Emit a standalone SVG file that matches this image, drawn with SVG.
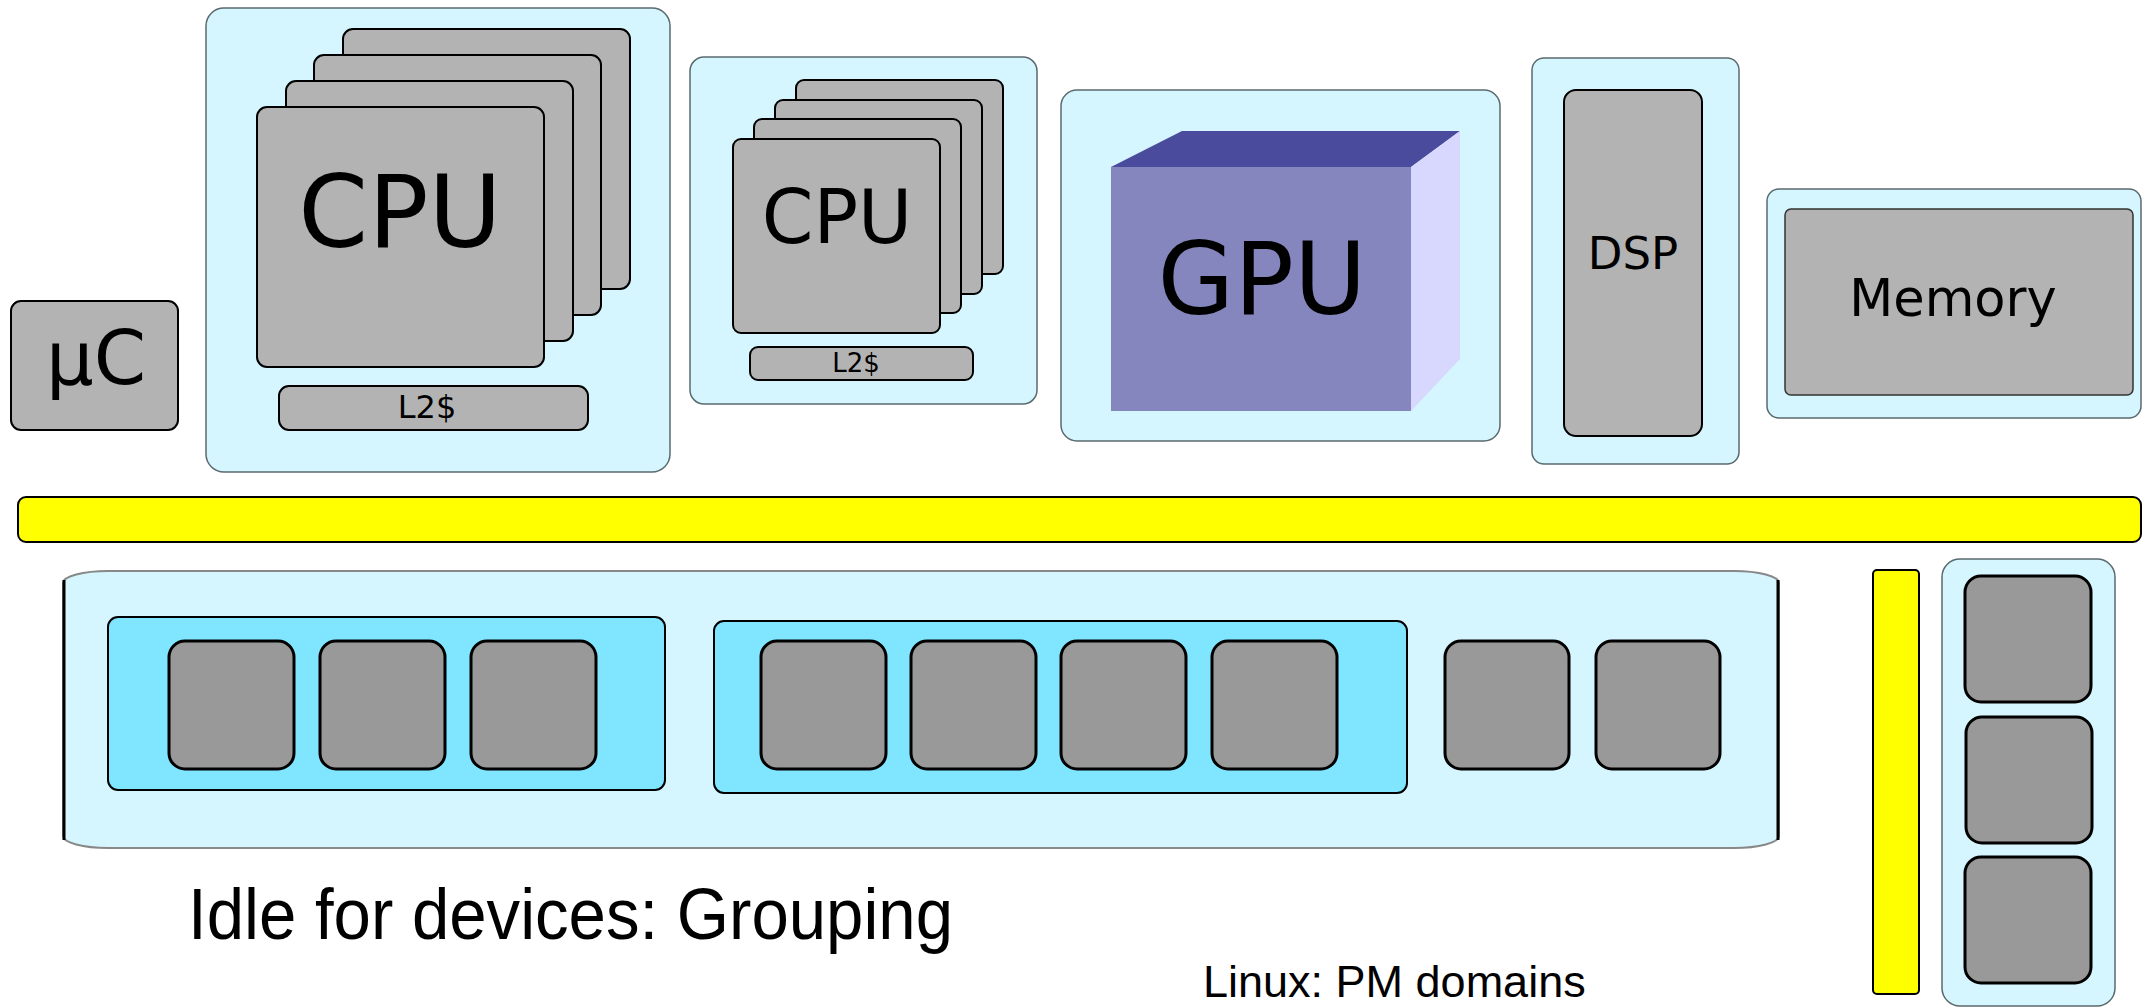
<svg xmlns="http://www.w3.org/2000/svg" width="2143" height="1008" viewBox="0 0 2143 1008">
<style>
.cont{fill:#D5F5FF;stroke:#5a6a6e;stroke-width:1.5}
.chip{fill:#B3B3B3;stroke:#000;stroke-width:2}
.dev{fill:#999999;stroke:#000;stroke-width:3}
.grp{fill:#80E5FF;stroke:#000;stroke-width:2}
.bus{fill:#FFFF00;stroke:#000;stroke-width:2}
.dj{font-family:"DejaVu Sans",sans-serif;fill:#000;text-anchor:middle}
.ls{font-family:"Liberation Sans",Arial,sans-serif;fill:#000}
</style>
<rect width="2143" height="1008" fill="#fff"/>
<g id="uc">
<rect class="chip" x="11" y="301" width="167" height="129" rx="10"/>
<text class="dj" x="96" y="384" font-size="75">µC</text>
</g>
<g id="cpu-cluster-big">
<rect class="cont" x="206" y="8" width="464" height="464" rx="18"/>
<rect class="chip" x="343" y="29" width="287" height="260" rx="10"/>
<rect class="chip" x="314" y="55" width="287" height="260" rx="10"/>
<rect class="chip" x="286" y="81" width="287" height="260" rx="10"/>
<rect class="chip" x="257" y="107" width="287" height="260" rx="10"/>
<text class="dj" x="400" y="247" font-size="100">CPU</text>
<rect class="chip" x="279" y="386" width="309" height="44" rx="10"/>
<text class="dj" x="427" y="418" font-size="32">L2$</text>
</g>
<g id="cpu-cluster-little">
<rect class="cont" x="690" y="57" width="347" height="347" rx="14"/>
<rect class="chip" x="796" y="80" width="207" height="194" rx="8"/>
<rect class="chip" x="775" y="100" width="207" height="194" rx="8"/>
<rect class="chip" x="754" y="119" width="207" height="194" rx="8"/>
<rect class="chip" x="733" y="139" width="207" height="194" rx="8"/>
<text class="dj" x="837" y="243" font-size="74">CPU</text>
<rect class="chip" x="750" y="347" width="223" height="33" rx="8"/>
<text class="dj" x="856" y="372" font-size="26">L2$</text>
</g>
<g id="gpu">
<rect class="cont" x="1061" y="90" width="439" height="351" rx="16"/>
<polygon points="1111,167 1182,131 1460,131 1411,167" fill="#4B4B9E"/>
<polygon points="1411,167 1460,131 1460,359 1411,411" fill="#D8D8FF"/>
<rect x="1111" y="167" width="300" height="244" fill="#8686BE"/>
<text class="dj" x="1262" y="314" font-size="99">GPU</text>
</g>
<g id="dsp">
<rect class="cont" x="1532" y="58" width="207" height="406" rx="12"/>
<rect class="chip" x="1564" y="90" width="138" height="346" rx="12"/>
<text class="dj" x="1633" y="269" font-size="45">DSP</text>
</g>
<g id="memory">
<rect class="cont" x="1767" y="189" width="374" height="229" rx="12"/>
<rect x="1785" y="209" width="348" height="186" rx="6" fill="#B3B3B3" stroke="#333" stroke-width="1.5"/>
<text class="dj" x="1953" y="316" font-size="51">Memory</text>
</g>
<g id="bus">
<rect class="bus" x="18" y="497" width="2123" height="45" rx="8"/>
</g>
<g id="pm-domain-big">
<rect x="63" y="571" width="1716" height="277" rx="45" ry="12" fill="#D5F5FF" stroke="#888" stroke-width="2"/>
<line x1="64" y1="580" x2="64" y2="840" stroke="#000" stroke-width="3"/>
<line x1="1778" y1="580" x2="1778" y2="840" stroke="#000" stroke-width="3"/>
<rect class="grp" x="108" y="617" width="557" height="173" rx="10"/>
<rect class="dev" x="169" y="641" width="125" height="128" rx="16"/>
<rect class="dev" x="320" y="641" width="125" height="128" rx="16"/>
<rect class="dev" x="471" y="641" width="125" height="128" rx="16"/>
<rect class="grp" x="714" y="621" width="693" height="172" rx="10"/>
<rect class="dev" x="761" y="641" width="125" height="128" rx="16"/>
<rect class="dev" x="911" y="641" width="125" height="128" rx="16"/>
<rect class="dev" x="1061" y="641" width="125" height="128" rx="16"/>
<rect class="dev" x="1212" y="641" width="125" height="128" rx="16"/>
<rect class="dev" x="1445" y="641" width="124" height="128" rx="16"/>
<rect class="dev" x="1596" y="641" width="124" height="128" rx="16"/>
</g>
<g id="bus-vertical">
<rect class="bus" x="1873" y="570" width="46" height="424" rx="4"/>
</g>
<g id="pm-domain-right">
<rect class="cont" x="1942" y="559" width="173" height="447" rx="18"/>
<rect class="dev" x="1965" y="576" width="126" height="126" rx="16"/>
<rect class="dev" x="1966" y="717" width="126" height="126" rx="16"/>
<rect class="dev" x="1965" y="857" width="126" height="126" rx="16"/>
</g>
<g id="connectors"></g>
<text class="ls" x="188" y="939" font-size="72" textLength="765" lengthAdjust="spacingAndGlyphs">Idle for devices: Grouping</text>
<text class="ls" x="1203" y="997" font-size="45">Linux: PM domains</text>
</svg>
